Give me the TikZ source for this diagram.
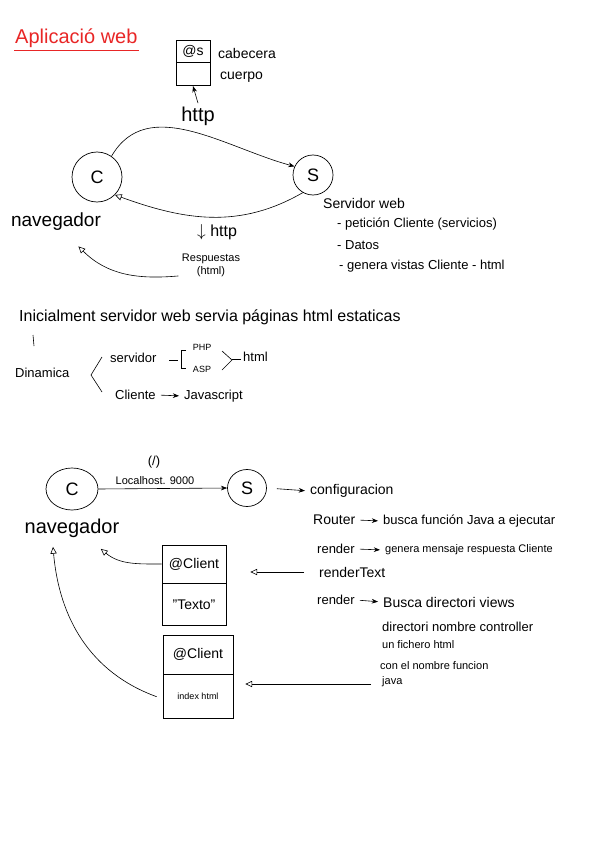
\documentclass[tikz,border=0pt]{standalone}
\usepackage{fontspec}
\setmainfont{Liberation Sans}
\definecolor{penred}{RGB}{232,38,38}
\usetikzlibrary{positioning,arrows.meta,calc,shapes.geometric}

\begin{document}
\begin{tikzpicture}[
  x=1pt, y=-1pt,
  font=\fontsize{13}{16}\selectfont,
  txt/.style={inner sep=1pt, anchor=west},
  big/.style={font=\fontsize{18}{20}\selectfont},
  mid/.style={font=\fontsize{14}{17}\selectfont},
  small/.style={font=\fontsize{11}{13}\selectfont},
  tiny/.style={font=\fontsize{9}{11}\selectfont},
  actor/.style={draw, ellipse, line width=0.7pt, inner sep=0pt,
                font=\fontsize{18}{20}\selectfont},
  cell/.style={draw, line width=0.7pt, inner sep=1pt, align=center},
  flow/.style={-{Stealth[length=2.2mm]}, line width=0.6pt},
  link/.style={flow, shorten <=4pt, shorten >=4pt},
  back/.style={-{Triangle[open,length=2.4mm,width=2.2mm]}, line width=0.6pt},
  pen/.style={line width=0.6pt},
]
\useasboundingbox (0,0) rectangle (601,848);

% --- title ---
\node[txt, font=\fontsize{20}{22}\selectfont, text=penred] (title) at (14,38) {Aplicació web};
\draw[penred, line width=0.9pt] ([yshift=-2pt]title.south west) -- ([yshift=-2pt]title.south east);

% --- http message ---
\node[cell, mid, minimum width=34, minimum height=22] (shead) at (193,51) {@s};
\node[cell, minimum width=34, minimum height=23, below=0pt of shead] (sbody) {};
\node[txt, mid] (cab) at (217,53) {cabecera};
\node[txt, mid] (cue) at (219,77) {cuerpo};
\node[font=\fontsize{20}{22}\selectfont] (http) at (198,116) {http};
\draw[flow] (http.north) -- (sbody.south);

% --- client / server ---
\node[actor, minimum size=50] (c1) at (97,177) {C};
\node[actor, minimum size=40] (s1) at (313,175) {S};
\node[font=\fontsize{19}{21}\selectfont] (nav1) at (56,222) {navegador};
\draw[flow] (c1.55) to[out=60,in=165] (s1.155);
\draw[back] (s1.-120) to[out=-150,in=-20] (c1.-45);
\node[txt, font=\fontsize{16}{18}\selectfont] (http2) at (196,232) {$\downarrow$ http};
\node[small, align=center] (resp) at (211,265) {Respuestas\\(html)};
\draw[back] ([yshift=4pt]resp.south west) to[out=185,in=-45] ([xshift=-26pt,yshift=-12pt]nav1.south east);

% --- servidor web ---
\node[txt, mid] (sweb) at (322,203) {Servidor web};
\node[txt] (pet) at (336,224) {- petición Cliente (servicios)};
\node[txt] (dat) at (336,245) {- Datos};
\node[txt] (gen) at (338,266) {- genera vistas Cliente - html};

% --- static / dynamic ---
\node[txt, font=\fontsize{16}{18}\selectfont] (ini) at (18,317) {Inicialment servidor web servia páginas html estaticas};
\draw[pen] (33,335) -- (34,346);
\node[txt] (din) at (14,373) {Dinamica};
\draw[pen] (102,357) -- (91,375) -- (102,392);
\node[txt] (serv) at (109,358) {servidor};
\draw[pen] (169,360) -- (178,360);
\draw[pen] (186,350) -- (181,350) -- (181,368) -- (186,368);
\node[tiny] (php) at (202,347) {PHP};
\node[tiny] (asp) at (202,369) {ASP};
\draw[pen] (222,351) -- (232,360) -- (222,370);
\draw[pen] (232,359) -- (241,359);
\node[txt] (html) at (242,357) {html};
\node[txt] (cli) at (114,395) {Cliente};
\node[txt] (js) at (183,396) {Javascript};
\draw[link] (cli.east) -- (js.west);

% --- second diagram ---
\node[actor, minimum width=52, minimum height=42] (c2) at (72,489) {C};
\node[actor, minimum width=39, minimum height=37] (s2) at (247,488) {S};
\draw[flow] (c2.east) -- (s2.west);
\node (root) at (154,462) {(/)};
\node[small] (host) at (155,481) {Localhost. 9000};
\node[font=\fontsize{20}{22}\selectfont] (nav2) at (72,528) {navegador};

% --- framework notes ---
\node[txt, mid] (conf) at (309,491) {configuracion};
\draw[flow, shorten <=10pt, shorten >=4pt] (s2.east) -- (conf.west);
\node[txt, mid] (rout) at (312,520) {Router};
\node[txt] (busca) at (382,521) {busca función Java a ejecutar};
\draw[link] (rout.east) -- (busca.west);
\node[txt] (rend1) at (316,549) {render};
\node[txt, small] (mens) at (384,550) {genera mensaje respuesta Cliente};
\draw[link] (rend1.east) -- (mens.west);
\node[txt, mid] (rtext) at (318,572) {renderText};
\node[txt] (rend2) at (316,600) {render};
\node[txt, mid] (views) at (382,602) {Busca directori views};
\draw[link] (rend2.east) -- (views.west);
\node[txt] (dirn) at (381,627) {directori nombre controller};
\node[txt, small] (fich) at (381,645) {un fichero html};
\node[txt, small] (nomf) at (379,666) {con el nombre funcion};
\node[txt, small] (java) at (381,682) {java};

% --- responses ---
\node[cell, mid, minimum width=64, minimum height=38] (r1h) at (194,564) {@Client};
\node[cell, mid, minimum width=64, minimum height=42, below=0pt of r1h] (r1b) {"Texto"};
\node[cell, mid, minimum width=70, minimum height=39] (r2h) at (198,654.5) {@Client};
\node[cell, font=\fontsize{9}{11}\selectfont, minimum width=70, minimum height=44, below=0pt of r2h] (r2b) {index html};

\draw[back] (r1h.west) to[out=180,in=-40] ([xshift=-22pt,yshift=-8pt]nav2.south east);
\draw[back, shorten <=14pt, shorten >=24pt] (rtext.west) -- (rtext.west -| r1h.east);
\draw[back] ([xshift=-6pt]r2b.west) to[out=160,in=-85] ([xshift=-19pt,yshift=-6pt]nav2.south);
\draw[back, shorten <=10pt, shorten >=12pt] ([yshift=-2pt]java.west) -- ([yshift=-2pt]java.west -| r2h.east);
\end{tikzpicture}
\end{document}
